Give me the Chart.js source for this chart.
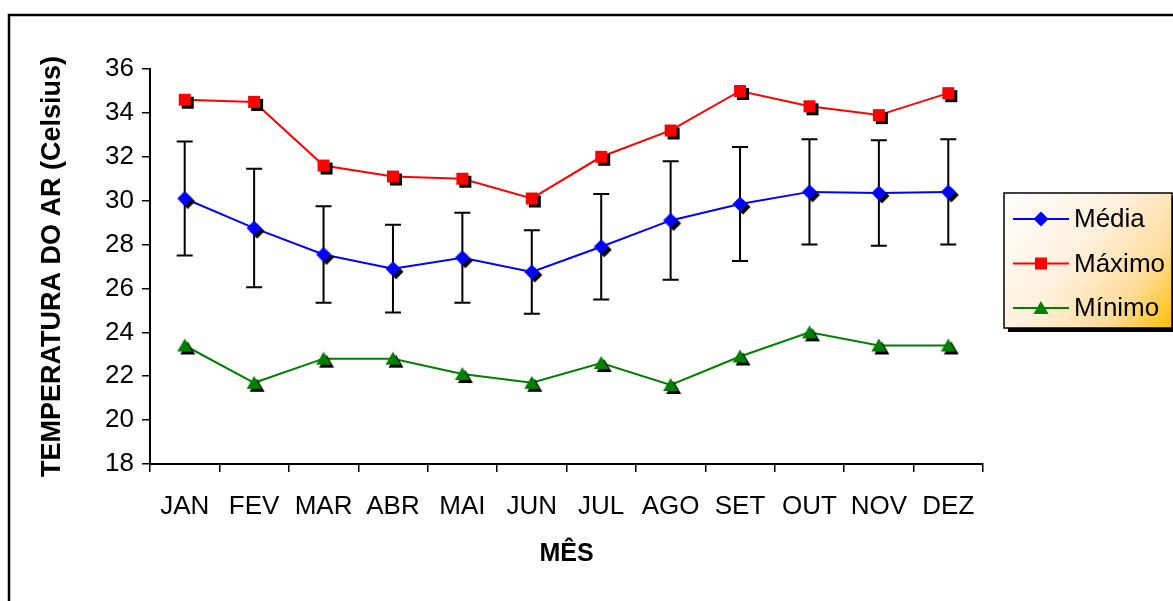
<!DOCTYPE html>
<html>
<head>
<meta charset="utf-8">
<script src="https://cdn.jsdelivr.net/npm/chart.js@4.4.1/dist/chart.umd.min.js"></script>
<style>
  html, body { margin: 0; padding: 0; background: #ffffff; }
  #wrap { width: 1173px; height: 601px; position: relative; overflow: hidden; }
  canvas { display: block; }
</style>
</head>
<body>
<div id="wrap"><canvas id="chart" width="1173" height="601"></canvas></div>
<script>
// Monthly air temperature: mean (with standard deviation), maximum and minimum
const months = ['JAN', 'FEV', 'MAR', 'ABR', 'MAI', 'JUN', 'JUL', 'AGO', 'SET', 'OUT', 'NOV', 'DEZ'];
const media  = [30.1, 28.75, 27.55, 26.9, 27.4, 26.75, 27.9, 29.1, 29.85, 30.4, 30.35, 30.4];
const desvio = [2.6, 2.7, 2.2, 2.0, 2.05, 1.9, 2.4, 2.7, 2.6, 2.4, 2.4, 2.4];
const maximo = [34.6, 34.5, 31.6, 31.1, 31.0, 30.1, 32.0, 33.2, 35.0, 34.3, 33.9, 34.9];
const minimo = [23.4, 21.7, 22.8, 22.8, 22.1, 21.7, 22.6, 21.6, 22.9, 24.0, 23.4, 23.4];
const yMin = 18, yMax = 36, yStep = 2;

const FONT = '"Liberation Sans", Arial, Helvetica, sans-serif';
const TICK_SIZE = 26;
const BLUE = '#0000ff', RED = '#ff0000', GREEN = '#008000';

// marker shapes drawn around (cx, cy)
function shapePath(ctx, shape, cx, cy) {
  ctx.beginPath();
  if (shape === 'diamond') {
    ctx.moveTo(cx, cy - 7.5); ctx.lineTo(cx + 7.5, cy); ctx.lineTo(cx, cy + 7.5); ctx.lineTo(cx - 7.5, cy);
  } else if (shape === 'square') {
    ctx.rect(cx - 6, cy - 6, 12, 12);
  } else {
    ctx.moveTo(cx, cy - 7); ctx.lineTo(cx + 7.5, cy + 6); ctx.lineTo(cx - 7.5, cy + 6);
  }
  ctx.closePath();
}

// point image with a hard black drop shadow to the lower right
function markerImage(shape, color) {
  const size = 30, c = size / 2, off = 3;
  const cv = document.createElement('canvas');
  cv.width = size; cv.height = size;
  const g = cv.getContext('2d');
  g.fillStyle = '#000000';
  shapePath(g, shape, c + off, c + off); g.fill();
  g.fillStyle = color;
  shapePath(g, shape, c, c); g.fill();
  return cv;
}

const outerFrame = {
  id: 'outerFrame',
  beforeDraw(chart) {
    const ctx = chart.ctx;
    ctx.save();
    ctx.fillStyle = '#ffffff';
    ctx.fillRect(0, 0, chart.width, chart.height);
    ctx.strokeStyle = '#000000';
    ctx.lineWidth = 2.5;
    ctx.strokeRect(9, 15, 1300, 800);
    ctx.restore();
  }
};

const errorBars = {
  id: 'errorBars',
  beforeDatasetsDraw(chart) {
    const ctx = chart.ctx, xs = chart.scales.x, ys = chart.scales.y;
    ctx.save();
    ctx.strokeStyle = '#000000';
    ctx.lineWidth = 2;
    media.forEach((m, i) => {
      const x = xs.getPixelForValue(i);
      const yt = ys.getPixelForValue(m + desvio[i]);
      const yb = ys.getPixelForValue(m - desvio[i]);
      ctx.beginPath();
      ctx.moveTo(x, yt); ctx.lineTo(x, yb);
      ctx.moveTo(x - 8, yt); ctx.lineTo(x + 8, yt);
      ctx.moveTo(x - 8, yb); ctx.lineTo(x + 8, yb);
      ctx.stroke();
    });
    ctx.restore();
  }
};

const boxLegend = {
  id: 'boxLegend',
  afterDraw(chart) {
    const ctx = chart.ctx;
    const L = 1004, T = 193, W = 168, H = 135;
    ctx.save();
    ctx.fillStyle = '#000000';
    ctx.fillRect(L + 4, T + 4, W, H);
    const grad = ctx.createLinearGradient(L, T, L + W, T + H);
    grad.addColorStop(0, '#ffffff');
    grad.addColorStop(0.45, '#fff0dc');
    grad.addColorStop(0.75, '#ffdc9a');
    grad.addColorStop(1, '#ffc000');
    ctx.fillStyle = grad;
    ctx.fillRect(L, T, W, H);
    ctx.strokeStyle = '#000000';
    ctx.lineWidth = 1.5;
    ctx.strokeRect(L, T, W, H);
    const shapes = ['diamond', 'square', 'triangle'];
    chart.data.datasets.forEach((ds, k) => {
      const y = 219 + k * 44.5;
      ctx.strokeStyle = ds.borderColor;
      ctx.lineWidth = 2;
      ctx.beginPath(); ctx.moveTo(1013, y); ctx.lineTo(1069, y); ctx.stroke();
      ctx.fillStyle = ds.borderColor;
      shapePath(ctx, shapes[k], 1041, y); ctx.fill();
      ctx.fillStyle = '#000000';
      ctx.font = TICK_SIZE + 'px ' + FONT;
      ctx.textBaseline = 'middle';
      ctx.textAlign = 'left';
      ctx.fillText(ds.label, 1074, y + 1);
    });
    ctx.restore();
  }
};

new Chart(document.getElementById('chart'), {
  type: 'line',
  data: {
    labels: months,
    datasets: [
      { label: 'Média', data: media, borderColor: BLUE, backgroundColor: BLUE, borderWidth: 2,
        pointStyle: markerImage('diamond', BLUE), pointRadius: 8, tension: 0 },
      { label: 'Máximo', data: maximo, borderColor: RED, backgroundColor: RED, borderWidth: 2,
        pointStyle: markerImage('square', RED), pointRadius: 8, tension: 0 },
      { label: 'Mínimo', data: minimo, borderColor: GREEN, backgroundColor: GREEN, borderWidth: 2,
        pointStyle: markerImage('triangle', GREEN), pointRadius: 8, tension: 0 }
    ]
  },
  options: {
    responsive: false,
    animation: false,
    devicePixelRatio: 1,
    events: [],
    layout: { padding: { left: 0, top: 69, right: 190, bottom: 0 } },
    plugins: { legend: { display: false }, tooltip: { enabled: false } },
    elements: { line: { clip: false } },
    scales: {
      x: {
        offset: true,
        grid: { display: true, offset: true, drawOnChartArea: false, color: '#000000', lineWidth: 1.5, tickLength: 8 },
        border: { display: true, color: '#000000', width: 2 },
        ticks: { color: '#000000', font: { family: FONT, size: TICK_SIZE }, padding: 19, maxRotation: 0, autoSkip: false },
        title: { display: true, text: 'MÊS', color: '#000000', font: { family: FONT, size: 25, weight: 'bold' },
                 padding: { top: 0, bottom: 32 } },
        afterFit(s) { s.height = 137; }
      },
      y: {
        min: yMin, max: yMax,
        grid: { display: true, drawOnChartArea: false, color: '#000000', lineWidth: 1.5, tickLength: 8 },
        border: { display: true, color: '#000000', width: 2 },
        ticks: { stepSize: yStep, color: '#000000', font: { family: FONT, size: TICK_SIZE }, padding: 8 },
        title: { display: true, text: 'TEMPERATURA DO AR (Celsius)', color: '#000000',
                 font: { family: FONT, size: 27, weight: 'bold' }, padding: { top: 36, bottom: 0 } },
        afterFit(s) { s.width = 150; }
      }
    }
  },
  plugins: [outerFrame, errorBars, boxLegend]
});
</script>
</body>
</html>
